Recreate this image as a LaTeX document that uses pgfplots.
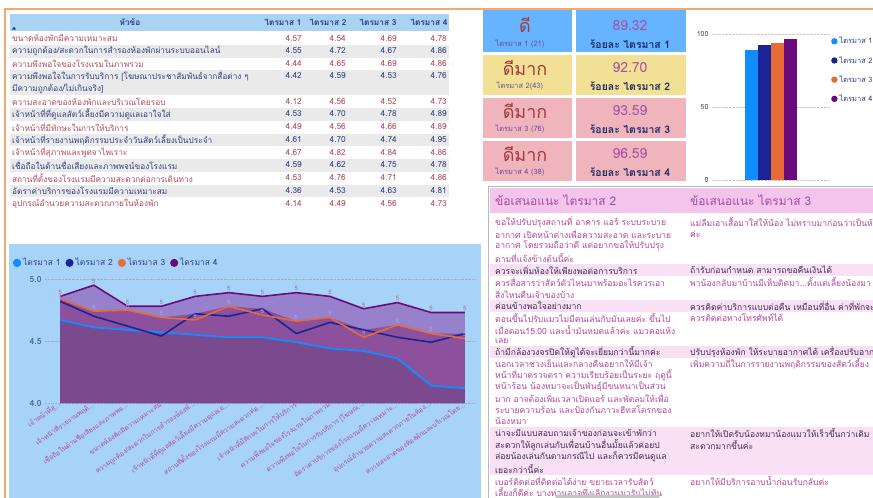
\documentclass[border=0pt]{standalone}
\usepackage{fontspec}
\setmainfont{Loma}[Script=Thai]
\usepackage{pgfplots}
\usepackage{pgfplotstable}
\pgfplotsset{compat=1.18}
\newcommand\fs[1]{\fontsize{#1}{#1}\selectfont}
\newcommand\dd{.\kern0.2bp.\kern0.2bp.}
\definecolor{orb}{HTML}{F4A86E}
\definecolor{hdrbg}{HTML}{A9D3F3}
\definecolor{hdrtx}{HTML}{2A3F86}
\definecolor{rowg}{HTML}{EAEAEA}
\definecolor{redt}{HTML}{B4475C}
\definecolor{bluet}{HTML}{323F86}
\definecolor{cblue}{HTML}{66B3FF}
\definecolor{cyel}{HTML}{F2E095}
\definecolor{cpink}{HTML}{F0B4BD}
\definecolor{cbig}{HTML}{A33B3E}
\definecolor{csmall}{HTML}{6A4E9E}
\definecolor{cnum}{HTML}{A84EA6}
\definecolor{clab}{HTML}{1F2C66}
\definecolor{q1c}{HTML}{118DFF}
\definecolor{q2c}{HTML}{1A2496}
\definecolor{q3c}{HTML}{E66C37}
\definecolor{q4c}{HTML}{6B0A7B}
\definecolor{lpbg}{HTML}{A8D3F8}
\definecolor{a4}{HTML}{9780CC}
\definecolor{a3}{HTML}{8C509D}
\definecolor{a1}{HTML}{7B4A8E}
\definecolor{xlab}{HTML}{B04A9E}
\definecolor{ylab}{HTML}{56698C}
\definecolor{phdr}{HTML}{F3C5EC}
\definecolor{prow}{HTML}{FAE0F5}
\definecolor{mag}{HTML}{B4449E}
\definecolor{dk}{HTML}{3B2F50}
\definecolor{htx}{HTML}{A94AA2}
\pgfplotsset{dotlegend/.style={legend image code/.code={\fill[##1] (2bp,0bp) circle (3.2bp);}}}
\newcommand\trow[7]{%
  \node[anchor=west, text=#2, font=\fs{8.3}, inner sep=0pt] at (12,#1) {#3};
  \node[anchor=east, text=#2, font=\fs{8.3}, inner sep=0pt] at (302,#1) {#4};
  \node[anchor=east, text=#2, font=\fs{8.3}, inner sep=0pt] at (346,#1) {#5};
  \node[anchor=east, text=#2, font=\fs{8.3}, inner sep=0pt] at (397,#1) {#6};
  \node[anchor=east, text=#2, font=\fs{8.3}, inner sep=0pt] at (447,#1) {#7};}
\newcommand\tl[4]{\node[anchor=west, text=#3, font=\fs{8.6}, inner sep=0pt] at (#1,#2) {#4};}
\pgfplotstableread{
x q1 q2 q3 q4
0 4.67 4.82 4.84 4.86
1 4.61 4.70 4.74 4.95
2 4.59 4.62 4.75 4.78
3 4.57 4.54 4.69 4.78
4 4.55 4.72 4.67 4.86
5 4.53 4.70 4.78 4.89
6 4.53 4.76 4.71 4.86
7 4.49 4.56 4.66 4.89
8 4.44 4.65 4.69 4.86
9 4.42 4.59 4.53 4.76
10 4.36 4.53 4.63 4.81
11 4.14 4.49 4.56 4.73
12 4.12 4.56 4.52 4.73
}\linedata
\pgfplotstableread{
x q23
0 4.84
1 4.74
2 4.75
3 4.69
4 4.72
5 4.78
6 4.76
7 4.66
8 4.69
9 4.59
10 4.63
11 4.56
12 4.56
}\maxdata
\begin{document}
\begin{tikzpicture}
\useasboundingbox (0bp,0bp) rectangle (873bp,-498bp);
\clip (0bp,0bp) rectangle (873bp,-498bp);
\begin{scope}[x=1bp,y=-1bp]
\fill[white] (0,0) rectangle (873,498);
% ---------- frame
\draw[orb, line width=1.6bp] (5,498) -- (5,9) -- (873,9);
% ---------- top-left table
\fill[hdrbg] (10,14) rectangle (449,31);
\fill[hdrtx] (12,29.5) -- (16,29.5) -- (14,26.5) -- cycle;
\node[text=hdrtx, font=\bfseries\fs{8.3}] at (130,22) {หัวข้อ};
\node[text=hdrtx, font=\bfseries\fs{8.3}] at (283,22) {ไตรมาส 1};
\node[text=hdrtx, font=\bfseries\fs{8.3}] at (328,22) {ไตรมาส 2};
\node[text=hdrtx, font=\bfseries\fs{8.3}] at (378,22) {ไตรมาส 3};
\node[text=hdrtx, font=\bfseries\fs{8.3}] at (429,22) {ไตรมาส 4};
\fill[rowg] (10,45) rectangle (449,57.5);
\fill[rowg] (10,70) rectangle (449,95);
\fill[rowg] (10,108) rectangle (449,120.5);
\fill[rowg] (10,133.5) rectangle (449,146);
\fill[rowg] (10,159) rectangle (449,171.5);
\fill[rowg] (10,184.5) rectangle (449,197);
\trow{38.5}{redt}{ขนาดห้องพักมีความเหมาะสม}{4.57}{4.54}{4.69}{4.78}
\trow{51}{bluet}{ความถูกต้อง/สะดวกในการสำรองห้องพักผ่านระบบออนไลน์}{4.55}{4.72}{4.67}{4.86}
\trow{63.5}{redt}{ความพึงพอใจของโรงแรมในภาพรวม}{4.44}{4.65}{4.69}{4.86}
\trow{76}{bluet}{ความพึงพอใจในการรับบริการ [โฆษณาประชาสัมพันธ์จากสื่อต่าง ๆ}{4.42}{4.59}{4.53}{4.76}
\node[anchor=west, text=bluet, font=\fs{8.3}, inner sep=0pt] at (12,88.5) {มีความถูกต้อง/ไม่เกินจริง]};
\trow{101.5}{redt}{ความสะอาดของห้องพักและบริเวณโดยรอบ}{4.12}{4.56}{4.52}{4.73}
\trow{114}{bluet}{เจ้าหน้าที่ที่ดูแลสัตว์เลี้ยงมีความดูแลเอาใจใส่}{4.53}{4.70}{4.78}{4.89}
\trow{127}{redt}{เจ้าหน้าที่มีทักษะในการให้บริการ}{4.49}{4.56}{4.66}{4.89}
\trow{140}{bluet}{เจ้าหน้าที่รายงานพฤติกรรมประจำวันสัตว์เลี้ยงเป็นประจำ}{4.61}{4.70}{4.74}{4.95}
\trow{152.5}{redt}{เจ้าหน้าที่สุภาพและพูดจาไพเราะ}{4.67}{4.82}{4.84}{4.86}
\trow{165}{bluet}{เชื่อถือในด้านชื่อเสียงและภาพพจน์ของโรงแรม}{4.59}{4.62}{4.75}{4.78}
\trow{178}{redt}{สถานที่ตั้งของโรงแรมมีความสะดวกต่อการเดินทาง}{4.53}{4.76}{4.71}{4.86}
\trow{190.5}{bluet}{อัตราค่าบริการของโรงแรมมีความเหมาะสม}{4.36}{4.53}{4.63}{4.81}
\trow{203.5}{redt}{อุปกรณ์อำนวยความสะดวกภายในห้องพัก}{4.14}{4.49}{4.56}{4.73}
% ---------- cards
\fill[cblue] (483,10) rectangle (572,52);  \fill[cblue] (576,10) rectangle (686,52);
\fill[cyel]  (483,55) rectangle (572,95);  \fill[cyel]  (576,55) rectangle (686,95);
\fill[cpink] (483,98) rectangle (572,138); \fill[cpink] (576,98) rectangle (686,138);
\fill[cpink] (483,141) rectangle (572,181);\fill[cpink] (576,141) rectangle (686,181);
\node[text=cbig, font=\fs{18}] at (525,25) {ดี};
\node[text=csmall, font=\fs{7.5}] at (520,44) {ไตรมาส 1 (21)};
\node[text=cnum, font=\fs{14}] at (630,26) {89.32};
\node[text=clab, font=\bfseries\fs{10.5}] at (630,44) {ร้อยละ ไตรมาส 1};
\node[text=cbig, font=\fs{18}] at (525,68) {ดีมาก};
\node[text=csmall, font=\fs{7.5}] at (520,86) {ไตรมาส 2(43)};
\node[text=cnum, font=\fs{14}] at (630,68) {92.70};
\node[text=clab, font=\bfseries\fs{10.5}] at (630,86) {ร้อยละ ไตรมาส 2};
\node[text=cbig, font=\fs{18}] at (525,111) {ดีมาก};
\node[text=csmall, font=\fs{7.5}] at (520,129) {ไตรมาส 3 (76)};
\node[text=cnum, font=\fs{14}] at (630,111) {93.59};
\node[text=clab, font=\bfseries\fs{10.5}] at (630,129) {ร้อยละ ไตรมาส 3};
\node[text=cbig, font=\fs{18}] at (525,154) {ดีมาก};
\node[text=csmall, font=\fs{7.5}] at (520,172) {ไตรมาส 4 (38)};
\node[text=cnum, font=\fs{14}] at (630,154) {96.59};
\node[text=clab, font=\bfseries\fs{10.5}] at (630,172) {ร้อยละ ไตรมาส 4};
% ---------- line chart panel bg
\fill[lpbg] (9,244) rectangle (481,498);
% ---------- comments table
\fill[phdr] (490,188) rectangle (873,213);
\fill[prow] (490,264) rectangle (873,276);
\fill[prow] (490,300) rectangle (873,312);
\fill[prow] (490,346) rectangle (873,358);
\fill[prow] (490,427) rectangle (873,475);
\draw[gray!55, line width=1bp] (488,498) -- (488,186) -- (873,186);
\node[anchor=west, text=htx, font=\fs{12}, inner sep=0pt] at (495,200) {ข้อเสนอแนะ ไตรมาส 2};
\node[anchor=west, text=htx, font=\fs{12}, inner sep=0pt] at (690,200) {ข้อเสนอแนะ ไตรมาส 3};
\tl{495}{222}{mag}{ขอให้ปรับปรุงสถานที่ อาคาร แอร์ ระบบระบาย}
\tl{495}{234}{mag}{อากาศ เปิดหน้าต่างเพื่อความสะอาด และระบาย}
\tl{495}{246}{mag}{อากาศ โดยรวมถือว่าดี แต่อยากขอให้ปรับปรุง}
\tl{495}{258}{mag}{ตามที่แจ้งข้างต้นนี้ค่ะ}
\tl{495}{270}{dk}{ควรจะเพิ่มห้องให้เพียงพอต่อการบริการ}
\tl{495}{282}{mag}{ควรสื่อสารว่าสัตว์ตัวไหนมาพร้อมอะไรควรเอา}
\tl{495}{294}{mag}{สิ่งไหนคืนเจ้าของบ้าง}
\tl{495}{306}{dk}{ค่อนข้างพอใจอย่างมาก}
\tl{495}{318}{mag}{ตอนขึ้นไปรับแมวไม่มีคนเล่นกับมันเลยค่ะ ขึ้นไป}
\tl{495}{330}{mag}{เมื่อตอน15.00 และน้ำมันหมดแล้วค่ะ แมวคอแห้ง}
\tl{495}{341}{mag}{เลย}
\tl{495}{352}{dk}{ถ้ามีกล้องวงจรปิดให้ดูได้จะเยี่ยมกว่านี้มากค่ะ}
\tl{495}{364}{mag}{นอกเวลาช่วงเย็นและกลางคืนอยากให้มีเจ้า}
\tl{495}{375}{mag}{หน้าที่มาตรวจตรา ความเรียบร้อยเป็นระยะ ฤดูนี้}
\tl{495}{387}{mag}{หน้าร้อน น้องหมาจะเป็นพันธุ์มีขนหนาเป็นส่วน}
\tl{495}{398}{mag}{มาก อาจต้องเพิ่มเวลาเปิดแอร์ และพัดลมให้เพื่อ}
\tl{495}{410}{mag}{ระบายความร้อน และป้องกันภาวะฮีทสโตรกของ}
\tl{495}{421}{mag}{น้องหมา}
\tl{495}{433}{dk}{น่าจะมีแบบสอบถามเจ้าของก่อนจะเข้าพักว่า}
\tl{495}{445}{dk}{สะดวกให้ลูกเล่นกับเพื่อนบ้านอื่นมั้ยแล้วค่อยป}
\tl{495}{457}{dk}{ล่อยน้องเล่นกันตามกรณีไป และก็ควรมีคนดูแล}
\tl{495}{469}{dk}{เยอะกว่านี้ค่ะ}
\tl{495}{481}{mag}{เบอร์ติดต่อที่ติดต่อได้ง่าย ขยายเวลารับสัตว์}
\tl{495}{492}{mag}{เลี้ยงก็ดีค่ะ บางท่านอาจพึ่งเลิกงานมารับไม่ทัน}
\tl{690}{222}{mag}{แม่ลืมเอาเสื้อมาใส่ให้น้อง ไม่ทราบมาก่อนว่าเป็นห้อง}
\tl{690}{234}{mag}{ค่ะ}
\tl{690}{270}{dk}{ถ้ารับก่อนกำหนด สามารถขอคืนเงินได้}
\tl{690}{282}{mag}{พาน้องกลับมาบ้านมีเห็บติดมา\dd ตั้งแต่เลี้ยงน้องมา}
\tl{690}{306}{dk}{ควรคิดค่าบริการแบบต่อคืน เหมือนที่อื่น ค่าที่พักจะ}
\tl{690}{318}{mag}{ควรติดต่อทางโทรศัพท์ได้}
\tl{690}{352}{dk}{ปรับปรุงห้องพัก ให้ระบายอากาศได้ เครื่องปรับอากาศ}
\tl{690}{364}{mag}{เพิ่มความถี่ในการรายงานพฤติกรรมของสัตว์เลี้ยง}
\tl{690}{433}{dk}{อยากให้เปิดรับน้องหมาน้องแมวให้เร็วขึ้นกว่าเดิม}
\tl{690}{445}{dk}{สะดวกมากขึ้นค่ะ}
\tl{690}{481}{mag}{อยากให้มีบริการอาบน้ำก่อนรับกลับค่ะ}
\fill[gray!45, rounded corners=2bp] (555,494.5) rectangle (660,498);
\end{scope}
% ---------- bar chart
\begin{axis}[at={(712bp,-180bp)}, anchor=south west, scale only axis,
  width=118bp, height=146bp, ymin=0, ymax=100, xmin=-1, xmax=1,
  ybar=0pt, bar width=13bp,
  axis line style={draw=none}, major tick length=0pt, xtick=\empty, ytick={0,50,100},
  ymajorgrids, grid style={densely dotted, gray!45, line width=0.8bp},
  yticklabel style={font=\fs{7}, text=gray!60!black},
  /pgf/number format/assume math mode=true,
  legend style={at={(1.0,1.0)}, anchor=north west, draw=none, fill=none,
    font=\fs{7.5}, text=bluet, row sep=7bp, inner sep=1bp, cells={anchor=west}},
]
\addplot[fill=q1c, draw=none, dotlegend] coordinates {(0,89.32)};
\addplot[fill=q2c, draw=none, dotlegend] coordinates {(0,92.70)};
\addplot[fill=q3c, draw=none, dotlegend] coordinates {(0,93.59)};
\addplot[fill=q4c, draw=none, dotlegend] coordinates {(0,96.59)};
\legend{ไตรมาส 1,ไตรมาส 2,ไตรมาส 3,ไตรมาส 4}
\end{axis}
% ---------- line chart
\begin{axis}[at={(45bp,-403bp)}, anchor=south west, scale only axis,
  width=430bp, height=124bp, xmin=-0.45, xmax=12.3, ymin=4, ymax=5,
  clip=false, axis line style={draw=none}, major tick length=0pt,
  ytick={4,4.5,5}, yticklabels={4.0,4.5,5.0},
  ymajorgrids, grid style={densely dotted, color=ylab!55, line width=0.8bp},
  xtick={0,1,2,3,4,5,6,7,8,9,10,11,12},
  xticklabels={{เจ้าหน้าที่สุ\dd},{เจ้าหน้าที่รายงานพฤติ\dd},{เชื่อถือในด้านชื่อเสียงและภาพพจ\dd},{ขนาดห้องพักมีความเหมาะสม},{ความถูกต้อง/สะดวกในการสำรองห้องพั\dd},{เจ้าหน้าที่ที่ดูแลสัตว์เลี้ยงมีความดูแลเอ\dd},{สถานที่ตั้งของโรงแรมมีความสะดวกต่อ\dd},{เจ้าหน้าที่มีทักษะในการให้บริการ},{ความพึงพอใจของโรงแรมในภาพรวม},{ความพึงพอใจในการรับบริการ [โฆษณ\dd},{อัตราค่าบริการของโรงแรมมีความเหมาะ\dd},{อุปกรณ์อำนวยความสะดวกภายในห้อง\dd},{ความสะอาดของห้องพักและบริเวณโดย\dd}},
  xticklabel style={rotate=35, anchor=east, font=\fs{6.8}, text=xlab, inner sep=1bp},
  yticklabel style={font=\bfseries\fs{8.5}, text=ylab},
  legend columns=4,
  legend style={at={(-0.075,1.13)}, anchor=west, draw=none, fill=none,
    font=\fs{8.5}, text=bluet, inner sep=0pt,
    /tikz/every even column/.append style={column sep=3bp}},
]
\addplot[fill=a4, draw=none, forget plot] table[x=x,y=q4] {\linedata} \closedcycle;
\addplot[fill=a3, draw=none, forget plot] table[x=x,y=q23] {\maxdata} \closedcycle;
\addplot[fill=a1, draw=none, forget plot] table[x=x,y=q1] {\linedata} \closedcycle;
\addplot[q1c, line width=1.8bp, dotlegend] table[x=x,y=q1] {\linedata};
\addplot[q2c, line width=1.6bp, dotlegend] table[x=x,y=q2] {\linedata};
\addplot[q3c, line width=1.6bp, dotlegend] table[x=x,y=q3] {\linedata};
\addplot[q4c, line width=1.6bp, dotlegend] table[x=x,y=q4] {\linedata};
\addplot[draw=none, forget plot, nodes near coords={5},
  every node near coord/.style={font=\fs{6}, text=a1!80, anchor=south, inner sep=1.5bp}]
  table[x=x,y=q4] {\linedata};
\addplot[draw=none, forget plot, nodes near coords={5},
  every node near coord/.style={font=\fs{6}, text=a4!70!white, anchor=south, inner sep=1.5bp}]
  table[x=x,y=q3] {\linedata};
\legend{ไตรมาส 1,ไตรมาส 2,ไตรมาส 3,ไตรมาส 4}
\end{axis}
\end{tikzpicture}
\end{document}
